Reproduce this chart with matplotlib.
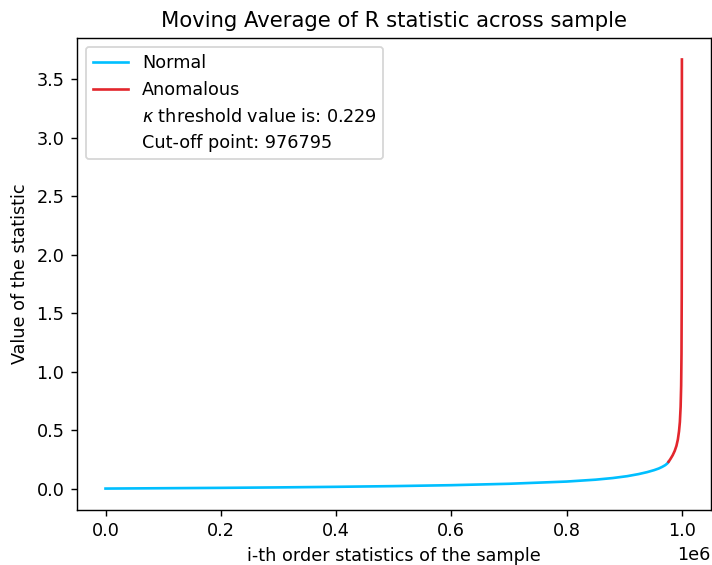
import matplotlib
matplotlib.use("Agg")
import matplotlib.pyplot as plt

CUTOFF = 976795
KAPPA = 0.229

normal_x = [0, 100000, 200000, 300000, 400000, 500000, 600000, 700000,
            800000, 850000, 880000, 905000, 925000, 940000, 952000,
            960000, 966000, 971000, 974500, CUTOFF]
normal_y = [0.0, 0.003, 0.006, 0.010, 0.015, 0.021, 0.029, 0.041,
            0.060, 0.076, 0.090, 0.106, 0.124, 0.141, 0.158,
            0.172, 0.186, 0.200, 0.214, KAPPA]

anomalous_x = [CUTOFF, 980000, 984000, 987500, 990500, 993000, 995000,
               996500, 997800, 998700, 999300, 999700, 999900, 1000000]
anomalous_y = [KAPPA, 0.252, 0.285, 0.322, 0.365, 0.42, 0.49,
               0.57, 0.70, 0.88, 1.15, 1.65, 2.40, 3.67]


def main():
    fig = plt.figure(figsize=(712 / 127, 565 / 127), dpi=127)
    ax = fig.add_axes([0.1077, 0.0973, 0.8905, 0.8354])

    ax.plot(normal_x, normal_y, color="deepskyblue", label="Normal")
    ax.plot(anomalous_x, anomalous_y, color="#e3262d", label="Anomalous")
    ax.plot([], [], " ", label=rf"$\kappa$ threshold value is: {KAPPA}")
    ax.plot([], [], " ", label=f"Cut-off point: {CUTOFF}")

    ax.set_title("Moving Average of R statistic across sample")
    ax.set_xlabel("i-th order statistics of the sample")
    ax.set_ylabel("Value of the statistic")
    ax.legend(loc="upper left")

    fig.savefig("out.png", dpi=127)


if __name__ == "__main__":
    main()
